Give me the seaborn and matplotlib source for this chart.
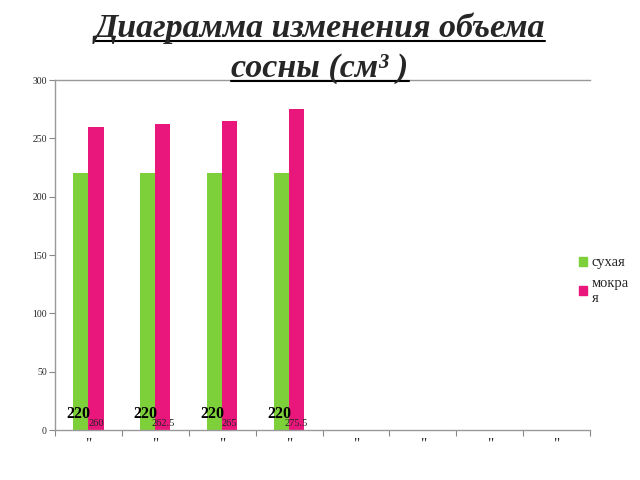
import numpy as np
import pandas as pd
import matplotlib
matplotlib.use('Agg')
import matplotlib.pyplot as plt
from matplotlib.lines import Line2D
import seaborn as sns

# chart data
cats = ['1', '2', '3', '4', '5', '6', '7', '8']
tick_labels = ['"'] * 8
dry = [220, 220, 220, 220, np.nan, np.nan, np.nan, np.nan]
wet = [260, 262.5, 265, 275.5, np.nan, np.nan, np.nan, np.nan]
dry_labels = ['220', '220', '220', '220']
wet_labels = ['260', '262.5', '265', '275.5']
series = ['сухая', 'мокрая']
colors = ['#7ED03B', '#E9177B']

df = pd.DataFrame({
    'cat': cats * 2,
    'value': dry + wet,
    'series': [series[0]] * 8 + [series[1]] * 8,
})

sns.set_style('white')
plt.rcParams['font.family'] = ['Liberation Serif', 'DejaVu Serif']

fig = plt.figure(figsize=(6.4, 4.8), dpi=100)
ax = fig.add_axes([0.086, 0.104, 0.836, 0.729])

sns.barplot(data=df, x='cat', y='value', hue='series', order=cats,
            hue_order=series, palette=colors, width=0.45, saturation=1,
            linewidth=0, ax=ax, legend=False)

ax.set_ylim(0, 300)
ax.set_xlim(-0.5, 7.5)
ax.set_yticks(range(0, 301, 50))
ax.tick_params(axis='y', labelsize=7, length=4, color='#888888', direction='out', pad=2, left=True)
ax.set_xticks(np.arange(-0.5, 8, 1))
ax.set_xticklabels([])
ax.set_xticks(range(8), minor=True)
ax.set_xticklabels(tick_labels, minor=True, fontsize=11)
ax.tick_params(axis='x', which='major', length=4, color='#888888', direction='out', bottom=True)
ax.tick_params(axis='x', which='minor', length=0, pad=5)
ax.set_xlabel('')
ax.set_ylabel('')
for s in ['left', 'bottom', 'top']:
    ax.spines[s].set_color('#999999')
    ax.spines[s].set_linewidth(1)
ax.spines['right'].set_visible(False)

# data labels
dry_bars = [b for b in ax.containers[0] if np.isfinite(b.get_height())]
wet_bars = [b for b in ax.containers[1] if np.isfinite(b.get_height())]
for b, lab in zip(dry_bars, dry_labels):
    ax.text(b.get_x() + b.get_width() * 0.35, 7, lab, ha='center', va='bottom',
            fontsize=11.5, fontweight='bold', color='black')
for w, lab in zip(wet_bars, wet_labels):
    ax.text(w.get_x() + w.get_width() * 0.5, 1.5, lab, ha='center', va='bottom',
            fontsize=7.5, color='#222222')

# legend
handles = [plt.Rectangle((0, 0), 1, 1, color=c) for c in colors]
fig.legend(handles, ['сухая', 'мокра\nя'], loc='upper left', bbox_to_anchor=(0.895, 0.478),
           frameon=False, fontsize=10.5, handlelength=0.6, handleheight=0.6,
           handletextpad=0.3, labelspacing=0.5, borderaxespad=0)

# title with underline
title_lines = ['Диаграмма изменения объема', 'сосны (см³ )']
ys = [0.942, 0.857]
fig.canvas.draw()
r = fig.canvas.get_renderer()
for t, y in zip(title_lines, ys):
    txt = fig.text(0.5, y, t, ha='center', va='center', fontsize=24.5,
                   fontweight='bold', fontstyle='italic')
    bb = txt.get_window_extent(renderer=r).transformed(fig.transFigure.inverted())
    fig.add_artist(Line2D([bb.x0, bb.x1], [bb.y0 + 0.006, bb.y0 + 0.006],
                          transform=fig.transFigure, color='black', lw=1.5))

fig.savefig('out.png', dpi=100)
